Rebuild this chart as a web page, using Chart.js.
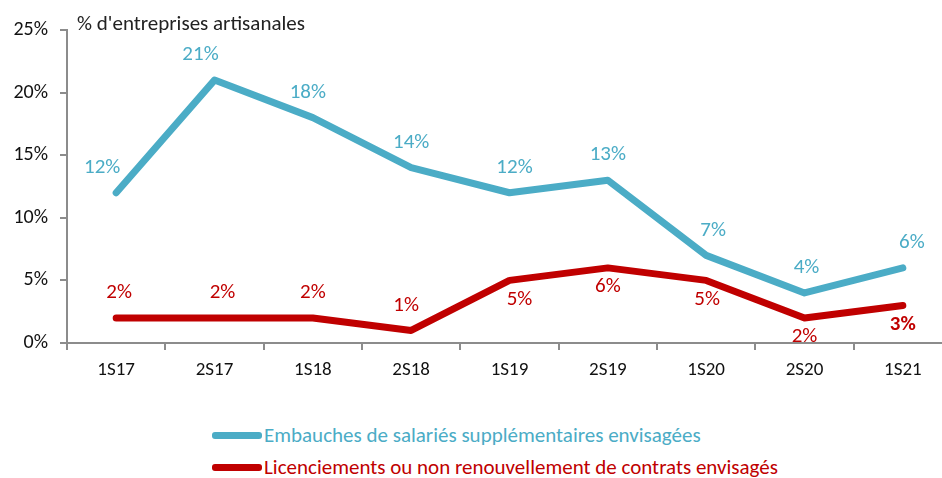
<!DOCTYPE html>
<html>
<head>
<meta charset="utf-8">
<script src="https://cdn.jsdelivr.net/npm/chart.js@4/dist/chart.umd.min.js"></script>
<style>
    html, body { margin: 0; padding: 0; overflow: hidden; background: #fff; }
    body { width: 942px; height: 478px; position: relative; font-family: Carlito, Lato, "Open Sans", sans-serif; }
    #wrap { position: absolute; left: 0; top: 0; width: 952px; height: 400px; }
    #unit { position: absolute; left: 77px; top: 10px; font-size: 21px; color: #222; }
    #legend { position: absolute; left: 212px; top: 419px; font-size: 21px; }
    #legend div { display: flex; align-items: center; height: 32px; }
    #legend span.swatch { display: inline-block; width: 50px; height: 7px; border-radius: 3px; margin-right: 2px; }
</style>
</head>
<body>
<div id="wrap"><canvas id="chart" width="952" height="400"></canvas></div>
<div id="unit">% d'entreprises artisanales</div>
<div id="legend"></div>
<script>
    // ===================================
    // DATA
    // ===================================
    const periods = ['1S17', '2S17', '1S18', '2S18', '1S19', '2S19', '1S20', '2S20', '1S21'];
    const hiring = [12, 21, 18, 14, 12, 13, 7, 4, 6];
    const layoffs = [2, 2, 2, 1, 5, 6, 5, 2, 3];
    const yTicks = ['0%', '5%', '10%', '15%', '20%', '25%'];

    const seriesNames = [
        'Embauches de salariés supplémentaires envisagées',
        'Licenciements ou non renouvellement de contrats envisagés'
    ];
    const seriesColors = ['#4BACC6', '#C00000'];

    // label placement: 'a' above the point, 'b' below it, plus a small sideways nudge
    const hiringLabelPos = ['a', 'a', 'a', 'a', 'a', 'a', 'a', 'a', 'a'];
    const hiringLabelNudge = [-14, -14, -5, 0, 5, 0, 7, 2, 9];
    const layoffsLabelPos = ['a', 'a', 'a', 'a', 'b', 'b', 'b', 'b', 'b'];
    const layoffsLabelNudge = [3, 8, 0, -5, 10, 0, 1, 0, 0];

    const FONT = 'Carlito, Lato, "Open Sans", sans-serif';

    // --- value labels drawn next to each point ---
    const valueLabels = {
        id: 'valueLabels',
        afterDatasetsDraw(chart) {
            const ctx = chart.ctx;
            ctx.save();
            ctx.textAlign = 'center';
            ctx.textBaseline = 'middle';
            chart.data.datasets.forEach((ds, i) => {
                const meta = chart.getDatasetMeta(i);
                meta.data.forEach((pt, j) => {
                    const above = ds.labelPos[j] === 'a';
                    const last = i === 1 && j === ds.data.length - 1;
                    ctx.font = (last ? 'bold ' : '') + '21px ' + FONT;
                    ctx.fillStyle = ds.borderColor;
                    ctx.fillText(ds.data[j] + '%', pt.x + ds.labelNudge[j], pt.y + (above ? -25 : 19));
                });
            });
            ctx.restore();
        }
    };

    const config = {
        type: 'line',
        data: {
            labels: periods,
            datasets: [
                { label: seriesNames[0], data: hiring, borderColor: seriesColors[0], labelPos: hiringLabelPos, labelNudge: hiringLabelNudge },
                { label: seriesNames[1], data: layoffs, borderColor: seriesColors[1], labelPos: layoffsLabelPos, labelNudge: layoffsLabelNudge }
            ]
        },
        options: {
            responsive: false,
            animation: false,
            layout: { padding: { top: 30, right: 0, left: 0, bottom: 0 } },
            elements: {
                line: { borderWidth: 7, tension: 0, borderCapStyle: 'round', borderJoinStyle: 'round' },
                point: { radius: 0 }
            },
            plugins: {
                legend: { display: false },
                tooltip: { enabled: false }
            },
            scales: {
                x: {
                    offset: true,
                    grid: { offset: true, drawOnChartArea: false, tickLength: 7, color: '#8c8c8c', lineWidth: 2 },
                    border: { color: '#8c8c8c', width: 2 },
                    ticks: { color: '#111', font: { size: 19, family: FONT }, padding: 9 },
                    afterFit: s => { s.height = 57; }
                },
                y: {
                    min: 0,
                    max: 25,
                    grid: { drawOnChartArea: false, tickLength: 7, color: '#8c8c8c', lineWidth: 2 },
                    border: { color: '#8c8c8c', width: 2 },
                    ticks: {
                        stepSize: 5,
                        color: '#111',
                        padding: 12,
                        font: { size: 20, family: FONT },
                        callback: (v, idx) => yTicks[idx]
                    },
                    afterFit: s => { s.width = 67; }
                }
            }
        },
        plugins: [valueLabels]
    };

    // --- Render Chart ---
    const ctx = document.getElementById('chart').getContext('2d');
    new Chart(ctx, config);

    // --- Legend ---
    const legend = document.getElementById('legend');
    seriesNames.forEach((name, i) => {
        const row = document.createElement('div');
        row.style.color = seriesColors[i];
        const sw = document.createElement('span');
        sw.className = 'swatch';
        sw.style.background = seriesColors[i];
        row.appendChild(sw);
        row.appendChild(document.createTextNode(name));
        legend.appendChild(row);
    });
</script>
</body>
</html>
